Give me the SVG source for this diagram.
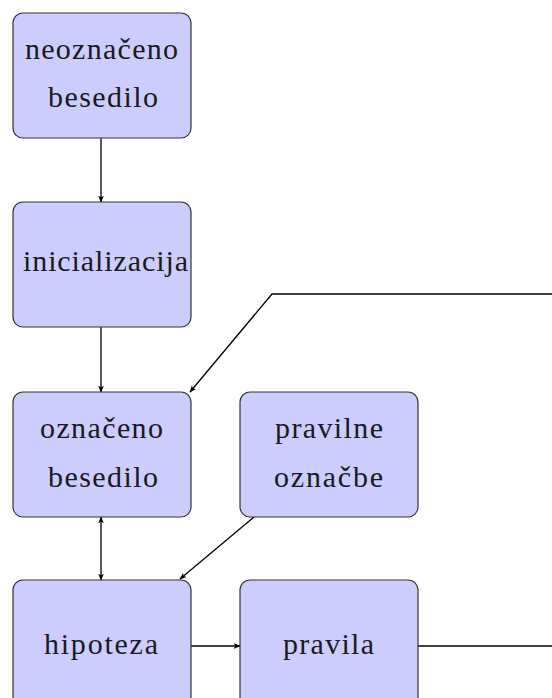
<svg xmlns="http://www.w3.org/2000/svg" width="552" height="698" viewBox="0 0 552 698">
<defs>
<style>
.box{fill:#ccccff;stroke:#333;stroke-width:1.2}
.t{fill:#1a1a1a;text-anchor:middle}
.c{fill:none;stroke:#000;stroke-width:1.3}
</style>
<marker id="ah" viewBox="0 0 10 10" refX="9" refY="5" markerWidth="7" markerHeight="7" markerUnits="userSpaceOnUse" orient="auto-start-reverse">
<path d="M0,1 L10,5 L0,9 L2.5,5 Z" fill="#000"/>
</marker>
</defs>
<rect width="552" height="698" fill="#fff"/>
<g id="connectors">
<line class="c" x1="101" y1="138" x2="101" y2="202" marker-end="url(#ah)"/>
<line class="c" x1="101" y1="327" x2="101" y2="392" marker-end="url(#ah)"/>
<line class="c" x1="101" y1="517" x2="101" y2="580" marker-start="url(#ah)" marker-end="url(#ah)"/>
<line class="c" x1="254" y1="517" x2="180" y2="579" marker-end="url(#ah)"/>
<line class="c" x1="190" y1="646" x2="240" y2="646" marker-end="url(#ah)"/>
<line class="c" x1="418" y1="646" x2="552" y2="646"/>
<polyline class="c" points="552,294 272,294 190,392" marker-end="url(#ah)"/>
</g>
<g font-family="'Liberation Serif', 'DejaVu Serif', serif" font-size="30">
<g id="neoznaceno">
<rect class="box" x="13" y="13" width="178" height="125" rx="10"/>
<text class="t" x="101.5" y="59" textLength="153" lengthAdjust="spacing">neoznačeno</text>
<text class="t" x="103" y="107" textLength="110" lengthAdjust="spacing">besedilo</text>
</g>
<g id="inicializacija">
<rect class="box" x="13" y="202" width="178" height="125" rx="10"/>
<text class="t" x="105.5" y="271" textLength="165" lengthAdjust="spacing">inicializacija</text>
</g>
<g id="oznaceno">
<rect class="box" x="13" y="392" width="178" height="125" rx="10"/>
<text class="t" x="101.5" y="438" textLength="123" lengthAdjust="spacing">označeno</text>
<text class="t" x="103" y="487" textLength="110" lengthAdjust="spacing">besedilo</text>
</g>
<g id="pravilne">
<rect class="box" x="240" y="392" width="178" height="125" rx="10"/>
<text class="t" x="329" y="438" textLength="108" lengthAdjust="spacing">pravilne</text>
<text class="t" x="328.5" y="487" textLength="109" lengthAdjust="spacing">označbe</text>
</g>
<g id="hipoteza">
<rect class="box" x="13" y="580" width="178" height="132" rx="10"/>
<text class="t" x="101" y="654" textLength="114" lengthAdjust="spacing">hipoteza</text>
</g>
<g id="pravila">
<rect class="box" x="240" y="580" width="178" height="132" rx="10"/>
<text class="t" x="328.5" y="654" textLength="91" lengthAdjust="spacing">pravila</text>
</g>
</g>
</svg>
